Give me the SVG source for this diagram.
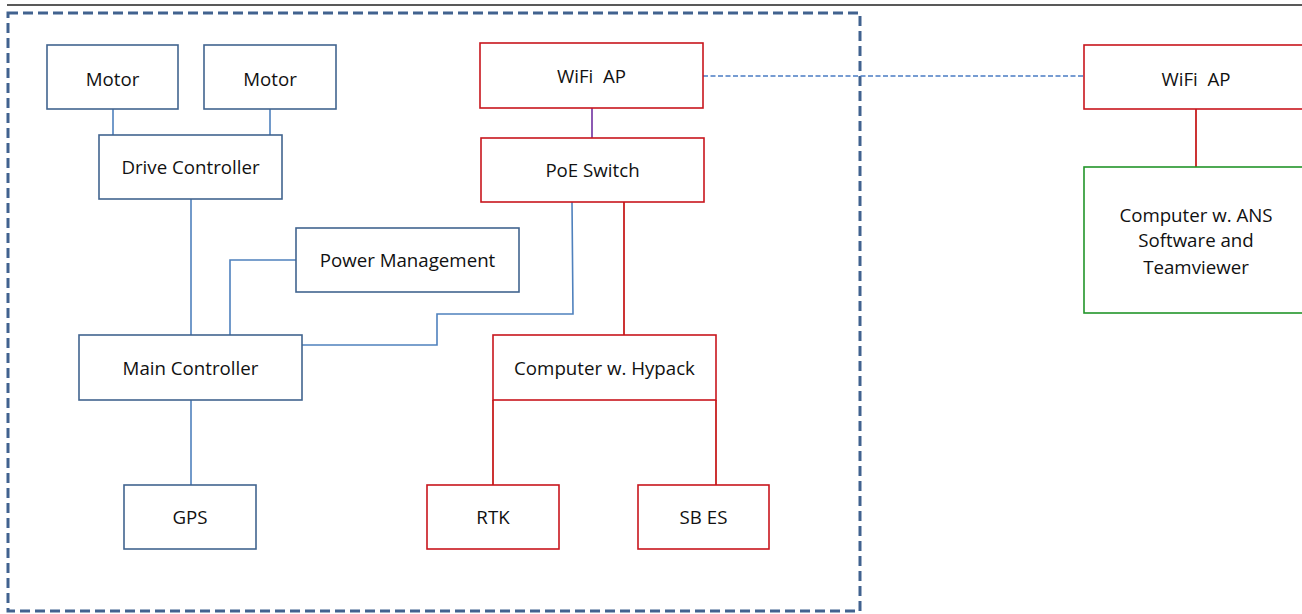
<svg xmlns="http://www.w3.org/2000/svg" width="1302" height="614" viewBox="0 0 1302 614">
<style>
.b{fill:#fff;stroke:#41648f;stroke-width:1.6}
.r{fill:#fff;stroke:#c8161d;stroke-width:1.6}
.g{fill:#fff;stroke:#22952a;stroke-width:1.6}
text{font-family:"Open Sans","Liberation Sans",sans-serif;font-size:18.7px;fill:#111;text-anchor:middle;white-space:pre}
.cb{fill:none;stroke:#4f81bd;stroke-width:1.6}
.cr{fill:none;stroke:#c00000;stroke-width:1.6}
</style>
<rect width="1302" height="614" fill="#fff"/>
<line x1="7" y1="5" x2="1302" y2="5" stroke="#222" stroke-width="1.4"/>
<rect id="boundary" x="8" y="13" width="852" height="598" fill="none" stroke="#41628f" stroke-width="3" stroke-dasharray="10,5"/>
<g id="connectors">
<line class="cb" x1="113" y1="109" x2="113" y2="135"/>
<line class="cb" x1="270" y1="109" x2="270" y2="135"/>
<line class="cb" x1="191" y1="199" x2="191" y2="335"/>
<polyline class="cb" points="296,260 230,260 230,335"/>
<polyline class="cb" points="302,345 437,345 437,314 573,314 572,202"/>
<line class="cb" x1="191" y1="400" x2="191" y2="485"/>
<line x1="592" y1="108" x2="592" y2="138" stroke="#7030a0" stroke-width="1.6"/>
<line class="cr" x1="624" y1="202" x2="624" y2="335"/>
<line class="cr" x1="493" y1="400" x2="493" y2="485"/>
<line class="cr" x1="716" y1="400" x2="716" y2="485"/>
<line class="cr" x1="1196" y1="109" x2="1196" y2="167"/>
<line x1="703" y1="76" x2="1084" y2="76" stroke="#4a7cc4" stroke-width="1.6" stroke-dasharray="5,2.5"/>
</g>
<g id="motor1"><rect class="b" x="47" y="45" width="131" height="64"/><text x="112.5" y="85.5">Motor</text></g>
<g id="motor2"><rect class="b" x="204" y="45" width="132" height="64"/><text x="270" y="85.5">Motor</text></g>
<g id="drive-controller"><rect class="b" x="99" y="135" width="183" height="64"/><text x="190.5" y="173.5">Drive Controller</text></g>
<g id="power-management"><rect class="b" x="296" y="228" width="223" height="64"/><text x="407.5" y="267">Power Management</text></g>
<g id="main-controller"><rect class="b" x="79" y="335" width="223" height="65"/><text x="190.5" y="374.5">Main Controller</text></g>
<g id="gps"><rect class="b" x="124" y="485" width="132" height="64"/><text x="190" y="524">GPS</text></g>
<g id="wifi-ap-boat"><rect class="r" x="480" y="43" width="223" height="65"/><text x="591.5" y="83">WiFi  AP</text></g>
<g id="poe-switch"><rect class="r" x="481" y="138" width="223" height="64"/><text x="592.5" y="177">PoE Switch</text></g>
<g id="computer-hypack"><rect class="r" x="493" y="335" width="223" height="65"/><text x="604.5" y="374.5">Computer w. Hypack</text></g>
<g id="rtk"><rect class="r" x="427" y="485" width="132" height="64"/><text x="493" y="524">RTK</text></g>
<g id="sb-es"><rect class="r" x="638" y="485" width="131" height="64"/><text x="703.5" y="524">SB ES</text></g>
<g id="wifi-ap-shore"><rect class="r" x="1084" y="45" width="224" height="64"/><text x="1196" y="85.5">WiFi  AP</text></g>
<g id="computer-ans"><rect class="g" x="1084" y="167" width="224" height="146"/><text x="1196" y="221.5">Computer w. ANS</text><text x="1196" y="247">Software and</text><text x="1196" y="274">Teamviewer</text></g>
</svg>
